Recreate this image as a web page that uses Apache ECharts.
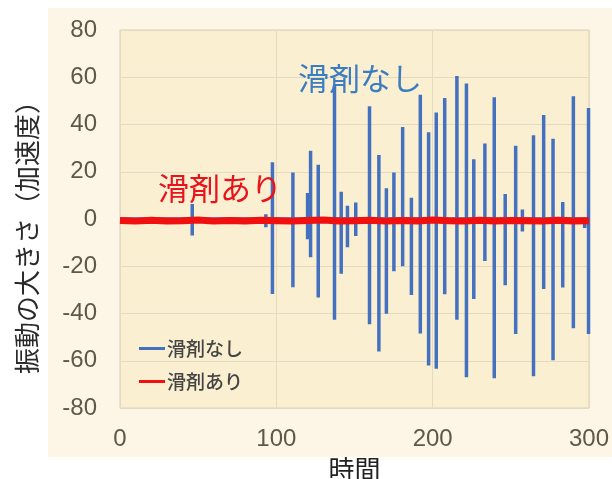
<!DOCTYPE html>
<html>
<head>
<meta charset="utf-8">
<script src="https://cdn.jsdelivr.net/npm/echarts@6/dist/echarts.min.js"></script>
<style>
  html, body { margin: 0; padding: 0; background: #fff; }
  #main { width: 612px; height: 479px; }
</style>
</head>
<body>
<div id="main"></div>
<script>
// 滑剤なし: 各スパイクの時刻と上端・下端
var spikeTimes = [46.2, 93.3, 97.5, 110.6, 120.0, 121.9, 126.8, 137.2, 141.5, 145.5, 150.8, 159.6, 165.6,
  170.4, 175.2, 180.8, 186.4, 192.1, 197.4, 202.3, 207.7, 215.5, 221.6, 226.3, 233.4, 239.4, 246.4,
  253.1, 257.4, 264.5, 271.0, 277.0, 283.2, 290.0, 297.2, 299.7];
var spikeHighs = [6.3, 2.0, 24.0, 19.7, 11.0, 28.9, 23.0, 56.5, 11.5, 5.6, 7.0, 47.7, 27.1,
  13.0, 19.7, 38.9, 9.0, 52.6, 36.7, 45.1, 51.2, 60.5, 57.4, 25.3, 32.0, 51.5, 10.6,
  31.0, 4.0, 35.4, 44.0, 34.0, 7.2, 52.0, 0.5, 47.0];
var spikeLows = [-7.0, -3.5, -31.7, -28.9, -8.6, -16.2, -33.2, -42.6, -23.2, -12.0, -7.2, -44.6, -56.1,
  -40.1, -22.1, -20.0, -32.2, -48.5, -62.0, -63.4, -31.8, -42.6, -67.0, -33.9, -17.8, -67.4, -28.0,
  -48.7, -5.3, -66.6, -29.6, -59.8, -29.0, -46.2, -3.8, -48.7];

// 滑剤あり: ほぼゼロ付近
var withTimes = [0, 10, 20, 30, 40, 50, 60, 70, 80, 90, 100, 110, 120, 130, 140, 150,
  160, 170, 180, 190, 200, 210, 220, 230, 240, 250, 260, 270, 280, 290, 300];
var withValues = [-0.6, -0.9, -0.5, -0.8, -0.7, -0.4, -0.9, -0.6, -0.8, -0.5, -0.7, -0.9, -0.6, -0.4, -0.8, -0.7,
  -0.5, -0.9, -0.6, -0.8, -0.4, -0.7, -0.9, -0.5, -0.8, -0.6, -0.7, -0.9, -0.5, -0.8, -0.7];

var xTicks = [0, 100, 200, 300];
var yTicks = [-80, -60, -40, -20, 0, 20, 40, 60, 80];

var noLubData = [[0, 0]];
spikeTimes.forEach(function (t, i) {
  noLubData.push([t, 0], [t, spikeHighs[i]], [t, spikeLows[i]], [t, 0]);
});
var withLubData = withTimes.map(function (t, i) { return [t, withValues[i]]; });

var tickFont = '"Liberation Sans Narrow", "Liberation Sans", Arial, sans-serif';
var jpFont = '"Noto Sans CJK JP", sans-serif';

var myChart = echarts.init(document.getElementById('main'));
var option = {
  backgroundColor: '#ffffff',
  animation: false,
  graphic: [
    {
      type: 'rect', z: -10,
      shape: { x: 48, y: 8, width: 564, height: 449 },
      style: { fill: '#fdf5e5' }
    },
    {
      type: 'text', x: 27, y: 231, rotation: Math.PI / 2,
      style: {
        text: '振動の大きさ（加速度）', fill: '#2a2a2a',
        font: '26px ' + jpFont, textAlign: 'center', textVerticalAlign: 'middle'
      }
    },
    {
      type: 'text', x: 360, y: 78, z: 100,
      style: {
        text: '滑剤なし', fill: '#3b7dc0',
        font: '31px ' + jpFont, textAlign: 'center', textVerticalAlign: 'middle'
      }
    },
    {
      type: 'text', x: 220, y: 188, z: 100,
      style: {
        text: '滑剤あり', fill: '#e8141c',
        font: '31px ' + jpFont, textAlign: 'center', textVerticalAlign: 'middle'
      }
    }
  ],
  grid: {
    left: 120, right: 23, top: 30, bottom: 71,
    outerBoundsMode: 'none', containLabel: false,
    show: true, backgroundColor: '#fbefd1', borderColor: '#d9d0b8', borderWidth: 1
  },
  legend: {
    orient: 'vertical', left: 134, top: 334,
    itemWidth: 26, itemHeight: 3, itemGap: 14, icon: 'rect',
    textStyle: { fontFamily: jpFont, fontSize: 19, fontWeight: 500, color: '#454545', padding: [0, 0, 0, -3] },
    data: ['滑剤なし', '滑剤あり']
  },
  xAxis: {
    type: 'value', min: 0, max: 300, interval: 100,
    name: '時間', nameLocation: 'middle', nameGap: 44,
    nameTextStyle: { fontFamily: jpFont, fontSize: 26, color: '#222' },
    axisLine: { show: false }, axisTick: { show: false },
    axisLabel: { fontFamily: tickFont, fontSize: 24, color: '#5d5848', margin: 19,
      formatter: function (v) { return xTicks.indexOf(v) >= 0 ? String(v) : ''; } },
    splitLine: { show: true, lineStyle: { color: '#e4dac2', width: 1 } }
  },
  yAxis: {
    type: 'value', min: -80, max: 80, interval: 20,
    axisLine: { show: false }, axisTick: { show: false },
    axisLabel: { fontFamily: tickFont, fontSize: 24, color: '#5d5848', margin: 23,
      formatter: function (v) { return yTicks.indexOf(v) >= 0 ? String(v) : ''; } },
    splitLine: { show: true, lineStyle: { color: '#e4dac2', width: 1 } }
  },
  series: [
    {
      name: '滑剤なし', type: 'line', data: noLubData,
      symbol: 'none', z: 2,
      lineStyle: { color: '#4470c0', width: 3.5 },
      itemStyle: { color: '#4470c0' }
    },
    {
      name: '滑剤あり', type: 'line', data: withLubData,
      symbol: 'none', z: 3,
      lineStyle: { color: '#f01010', width: 7 },
      itemStyle: { color: '#f01010' }
    }
  ]
};
myChart.setOption(option);
</script>
</body>
</html>
